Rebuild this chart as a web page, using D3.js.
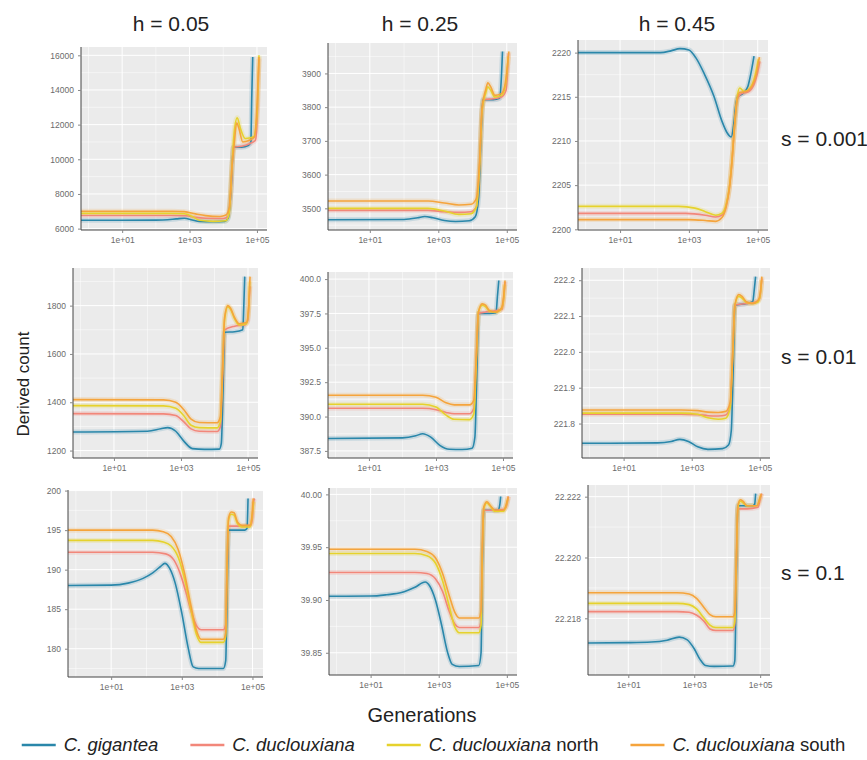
<!DOCTYPE html>
<html>
<head>
<meta charset="utf-8">
<script src="https://cdn.jsdelivr.net/npm/d3@7"></script>
<style>
  body { margin: 0; background: #fff; }
  svg { font-family: "Liberation Sans", Arial, sans-serif; }
</style>
</head>
<body>
<div id="chart"></div>
<script>
var svgWidth = 867;
var svgHeight = 760;

// facet labels
var hLabels = ["h = 0.05", "h = 0.25", "h = 0.45"];
var sLabels = ["s = 0.001", "s = 0.01", "s = 0.1"];

var species = ["C. gigantea", "C. duclouxiana", "C. duclouxiana north", "C. duclouxiana south"];
var colors = ["#2a87aa", "#f2877a", "#e6d22c", "#f5a43c"];

var xTicks = [10, 1000, 100000];
var xTickLabels = ["1e+01", "1e+03", "1e+05"];

// y ticks, panels in row order (s = 0.001 row first)
var yTicks = [
    [6000, 8000, 10000, 12000, 14000, 16000],
    [3500, 3600, 3700, 3800, 3900],
    [2200, 2205, 2210, 2215, 2220],
    [1200, 1400, 1600, 1800],
    [387.5, 390.0, 392.5, 395.0, 397.5, 400.0],
    [221.8, 221.9, 222.0, 222.1, 222.2],
    [180, 185, 190, 195, 200],
    [39.85, 39.90, 39.95, 40.00],
    [22.218, 22.220, 22.222]
];

// [generation, derived count] per panel
var gigantea = [
    [[0.6,6480],[100,6490],[400,6560],[700,6600],[1200,6500],[2000,6420],[5000,6400],[11000,6420],[14000,6600],[17000,8200],[20000,10700],[35000,10700],[55000,10800],[66000,11000],[70000,13500],[75000,15900]],
    [[0.6,3466],[100,3467],[250,3472],[400,3476],[700,3472],[1500,3464],[3200,3461],[8000,3463],[12000,3475],[15000,3530],[17500,3700],[20000,3822],[40000,3822],[62000,3826],[68000,3870],[75000,3965]],
    [[0.6,2220.0],[150,2220.0],[300,2220.2],[550,2220.45],[1000,2220.3],[1600,2219.4],[2800,2217.6],[5400,2215.0],[9000,2212.3],[13000,2210.9],[17000,2210.45],[20000,2211.8],[23000,2214.0],[26000,2215.0],[38000,2215.4],[52000,2216.2],[63000,2217.6],[78000,2219.6]],
    [[0.6,1277],[100,1280],[250,1290],[400,1295],[700,1280],[1200,1240],[2200,1208],[5000,1205],[14000,1206],[16000,1230],[18000,1450],[20000,1690],[40000,1692],[70000,1700],[75000,1800],[80000,1920]],
    [[0.6,388.4],[100,388.45],[250,388.6],[400,388.75],[700,388.5],[1300,387.9],[2500,387.62],[6000,387.6],[12000,387.7],[14500,388.5],[16500,393],[18500,397.5],[40000,397.5],[62000,397.55],[68000,398.7],[75000,399.9]],
    [[0.6,221.745],[100,221.746],[250,221.75],[450,221.756],[800,221.75],[1500,221.735],[3000,221.728],[8000,221.73],[12000,221.74],[14500,221.78],[16500,221.95],[18500,222.13],[40000,222.135],[62000,222.14],[68000,222.17],[75000,222.21]],
    [[0.6,188.0],[10,188.05],[30,188.3],[80,188.9],[150,189.6],[250,190.4],[330,190.8],[450,190.2],[650,188.3],[1000,184.5],[1500,180.2],[2100,177.7],[3000,177.5],[15000,177.5],[17500,178.5],[19000,186],[21000,195.0],[60000,195.0],[70000,195.2],[75000,199.0]],
    [[0.6,39.9035],[10,39.9037],[30,39.905],[80,39.907],[200,39.912],[400,39.917],[550,39.913],[800,39.90],[1200,39.877],[1800,39.851],[2500,39.839],[4000,39.837],[15000,39.838],[17500,39.85],[19000,39.93],[21000,39.985],[55000,39.985],[62000,39.99],[66000,39.998]],
    [[0.6,22.21719],[10,22.2172],[50,22.21722],[150,22.21728],[350,22.21738],[600,22.2173],[1000,22.2170],[1500,22.21665],[2200,22.21645],[4000,22.21642],[15000,22.21643],[17000,22.2166],[19000,22.2195],[21000,22.2217],[60000,22.2217],[68000,22.22175],[73000,22.2221]]
];

var duclouxiana = [
    [[0.6,6760],[300,6760],[800,6740],[1500,6650],[3000,6600],[10000,6580],[14000,6700],[17000,8200],[20000,10700],[35000,10750],[60000,10900],[90000,11100],[105000,13000],[115000,15800]],
    [[0.6,3494],[500,3494],[1500,3490],[4000,3488],[9000,3490],[13000,3505],[16000,3620],[19000,3790],[22000,3822],[40000,3825],[70000,3830],[95000,3850],[112000,3960]],
    [[0.6,2201.8],[800,2201.8],[3000,2201.6],[6000,2201.4],[9000,2201.6],[12000,2202.6],[15000,2204.7],[18000,2207.9],[21000,2211.5],[25000,2214.6],[32000,2215.3],[55000,2215.6],[80000,2216.5],[100000,2217.8],[115000,2219.0]],
    [[0.6,1353],[300,1352],[700,1345],[1200,1320],[2000,1290],[3500,1280],[12000,1279],[15000,1300],[17500,1500],[20000,1700],[40000,1715],[80000,1720],[100000,1740],[108000,1820],[115000,1880]],
    [[0.6,390.6],[400,390.6],[1000,390.5],[2000,390.3],[3500,390.2],[10000,390.2],[13500,390.6],[16000,394.2],[18500,397.5],[30000,397.6],[60000,397.7],[95000,397.8],[108000,398.9],[115000,399.8]],
    [[0.6,221.826],[500,221.826],[1500,221.825],[3000,221.822],[6000,221.821],[10000,221.824],[13500,221.85],[16000,221.99],[18500,222.13],[40000,222.135],[80000,222.14],[100000,222.15],[108000,222.18],[115000,222.205]],
    [[0.6,192.2],[150,192.2],[350,192.0],[600,191.2],[900,189.5],[1300,187.2],[1900,184.5],[2700,182.8],[3500,182.4],[15000,182.4],[17500,183],[19000,189.5],[21000,195.5],[40000,195.5],[90000,195.6],[100000,196.5],[108000,198.6],[115000,199.0]],
    [[0.6,39.926],[200,39.926],[450,39.925],[800,39.92],[1300,39.908],[2000,39.89],[3000,39.877],[4000,39.874],[15000,39.874],[17500,39.88],[19000,39.94],[21000,39.985],[40000,39.985],[85000,39.986],[100000,39.99],[112000,39.998]],
    [[0.6,22.21822],[300,22.21822],[700,22.2182],[1200,22.2181],[2000,22.2179],[3000,22.21765],[4500,22.2176],[15000,22.2176],[17000,22.2178],[19000,22.2198],[21000,22.2216],[40000,22.2216],[85000,22.22165],[100000,22.2219],[112000,22.2221]]
];

var north = [
    [[0.6,6880],[300,6880],[700,6860],[1200,6700],[2000,6480],[5000,6420],[12000,6450],[15000,6900],[18000,9500],[21000,11500],[26000,12400],[32000,11800],[45000,11200],[80000,11300],[100000,12500],[115000,16000]],
    [[0.6,3500],[500,3500],[1500,3492],[4000,3482],[9000,3484],[13000,3505],[16000,3620],[19000,3790],[24000,3840],[28000,3860],[34000,3850],[45000,3830],[70000,3835],[90000,3860],[110000,3950]],
    [[0.6,2202.6],[500,2202.6],[1500,2202.4],[3000,2202.0],[6000,2201.6],[9000,2201.8],[12000,2202.8],[15000,2204.8],[18000,2208],[21000,2211.5],[25000,2214.8],[30000,2216.0],[40000,2215.6],[60000,2216.0],[85000,2217.5],[105000,2219.3]],
    [[0.6,1386],[300,1385],[700,1375],[1200,1345],[2000,1305],[3500,1295],[12000,1294],[15000,1320],[17500,1540],[20000,1740],[25000,1795],[30000,1785],[40000,1745],[55000,1720],[90000,1725],[105000,1790],[112000,1900]],
    [[0.6,390.9],[400,390.9],[1000,390.7],[2000,390.1],[3500,389.8],[10000,389.78],[13500,390.2],[16000,394],[18500,397.6],[24000,398.1],[30000,398.0],[40000,397.65],[60000,397.6],[90000,397.85],[105000,398.6],[112000,399.6]],
    [[0.6,221.829],[500,221.829],[1500,221.826],[3000,221.816],[6000,221.812],[10000,221.815],[13500,221.845],[16000,221.99],[18500,222.13],[24000,222.155],[30000,222.15],[40000,222.138],[60000,222.135],[90000,222.14],[105000,222.165],[112000,222.2]],
    [[0.6,193.7],[150,193.7],[300,193.5],[500,193.0],[800,191.5],[1200,188.8],[1800,185.0],[2600,181.8],[3500,180.8],[15000,180.8],[17500,181.6],[19000,190],[21000,196.2],[25000,197.0],[30000,196.9],[38000,195.8],[50000,195.4],[85000,195.4],[95000,196.3],[108000,198.6]],
    [[0.6,39.944],[200,39.944],[450,39.942],[800,39.935],[1300,39.918],[2000,39.895],[3000,39.874],[4000,39.869],[15000,39.869],[17500,39.876],[19000,39.94],[21000,39.986],[26000,39.992],[32000,39.989],[45000,39.984],[80000,39.984],[95000,39.989],[108000,39.996]],
    [[0.6,22.21849],[300,22.21849],[700,22.21845],[1200,22.2183],[2000,22.218],[3000,22.21778],[4500,22.2177],[15000,22.2177],[17000,22.2179],[19000,22.2199],[21000,22.2216],[25000,22.22185],[30000,22.2218],[40000,22.2217],[80000,22.2217],[95000,22.2219],[105000,22.22205]]
];

var south = [
    [[0.6,7000],[300,7000],[700,6980],[1500,6850],[3000,6750],[8000,6700],[12000,6780],[15000,7200],[18000,9500],[21000,10800],[25000,12100],[29000,11800],[38000,11000],[60000,11100],[85000,11300],[100000,13000],[115000,15900]],
    [[0.6,3522],[500,3522],[1500,3516],[4000,3510],[9000,3512],[13000,3530],[16000,3640],[19000,3800],[24000,3850],[28000,3872],[34000,3860],[45000,3835],[70000,3840],[90000,3870],[115000,3965]],
    [[0.6,2201.1],[1000,2201.1],[3000,2201.0],[6000,2200.9],[9000,2201.3],[12000,2202.5],[15000,2204.6],[18000,2207.8],[21000,2211.5],[25000,2214.5],[30000,2215.5],[45000,2215.6],[70000,2216.3],[90000,2217.5],[112000,2219.5]],
    [[0.6,1411],[300,1410],[700,1400],[1200,1370],[2000,1330],[3500,1316],[12000,1315],[15000,1340],[17500,1550],[20000,1750],[25000,1800],[30000,1790],[40000,1750],[55000,1725],[90000,1730],[105000,1800],[115000,1920]],
    [[0.6,391.55],[400,391.55],[1000,391.4],[2000,391.0],[3500,390.85],[10000,390.85],[13500,391.2],[16000,394.5],[18500,397.6],[24000,398.2],[30000,398.1],[40000,397.7],[60000,397.6],[90000,397.9],[105000,398.8],[115000,399.9]],
    [[0.6,221.838],[500,221.838],[1500,221.836],[3000,221.832],[6000,221.831],[10000,221.834],[13500,221.86],[16000,222.0],[18500,222.13],[24000,222.16],[30000,222.155],[40000,222.14],[60000,222.135],[90000,222.145],[105000,222.17],[115000,222.21]],
    [[0.6,195.0],[150,195.0],[300,194.8],[500,194.2],[800,192.5],[1200,189.5],[1800,185.5],[2600,182.3],[3500,181.2],[15000,181.2],[17500,182],[19000,190],[21000,196.5],[25000,197.3],[30000,197.2],[38000,196],[50000,195.6],[85000,195.6],[95000,196.5],[105000,199.0]],
    [[0.6,39.948],[200,39.948],[450,39.946],[800,39.94],[1300,39.925],[2000,39.905],[3000,39.888],[4000,39.883],[15000,39.883],[17500,39.89],[19000,39.95],[21000,39.988],[26000,39.993],[32000,39.99],[45000,39.985],[80000,39.985],[95000,39.99],[110000,39.998]],
    [[0.6,22.21884],[300,22.21884],[700,22.2188],[1200,22.21865],[2000,22.21835],[3000,22.21812],[4500,22.21805],[15000,22.21805],[17000,22.2182],[19000,22.2200],[21000,22.2217],[25000,22.2219],[30000,22.22185],[40000,22.2217],[80000,22.2217],[95000,22.2219],[108000,22.2221]]
];

var seriesList = [gigantea, duclouxiana, north, south];

// plot area of each panel: [left, top, right, bottom]
var boxes = [
    [81, 47, 267, 230], [328, 43, 517, 230], [578, 40, 768, 230],
    [73, 268, 258, 458], [328, 272, 513, 458], [582, 268, 770, 458],
    [68, 490, 263, 677], [329, 488, 517, 675], [588, 485, 770, 675]
];

var svg = d3.select("#chart")
    .append("svg")
    .attr("width", svgWidth)
    .attr("height", svgHeight);

// shared log x domain: lines start at the axis, some room on the right
var allGens = [];
seriesList.forEach(s => s.forEach(p => p.forEach(d => allGens.push(Math.log10(d[0])))));
var lx0 = d3.min(allGens), lx1 = d3.max(allGens);
var xDomain = [Math.pow(10, lx0), Math.pow(10, lx1 + (lx1 - lx0) * 0.045)];
var xMinor = [1, 100, 10000];

function decimalsOf(ticks) {
    return d3.max(ticks, t => (String(t).split(".")[1] || "").length);
}

for (var i = 0; i < 9; i++) {
    var b = boxes[i];
    var w = b[2] - b[0];
    var h = b[3] - b[1];
    var g = svg.append("g").attr("transform", `translate(${b[0]}, ${b[1]})`);

    var vals = [];
    seriesList.forEach(s => s[i].forEach(d => vals.push(d[1])));
    var y0 = d3.min(vals), y1 = d3.max(vals);
    var pad = (y1 - y0) * 0.05;

    var x = d3.scaleLog().domain(xDomain).range([0, w]);
    var y = d3.scaleLinear().domain([y0 - pad, y1 + pad]).range([h, 0]);

    g.append("rect")
        .attr("width", w)
        .attr("height", h)
        .attr("fill", "#ebebeb");

    // minor grid
    var ticks = yTicks[i];
    var step = ticks[1] - ticks[0];
    var yMinor = [ticks[0] - step / 2].concat(ticks.map(t => t + step / 2))
        .filter(t => t > y.domain()[0] && t < y.domain()[1]);
    g.selectAll(".ymin").data(yMinor).enter().append("line")
        .attr("x1", 0).attr("x2", w)
        .attr("y1", d => y(d)).attr("y2", d => y(d))
        .attr("stroke", "#fff").attr("stroke-width", 0.5);
    g.selectAll(".xmin").data(xMinor.filter(t => t > xDomain[0])).enter().append("line")
        .attr("y1", 0).attr("y2", h)
        .attr("x1", d => x(d)).attr("x2", d => x(d))
        .attr("stroke", "#fff").attr("stroke-width", 0.5);

    // major grid
    g.selectAll(".ymaj").data(ticks).enter().append("line")
        .attr("x1", 0).attr("x2", w)
        .attr("y1", d => y(d)).attr("y2", d => y(d))
        .attr("stroke", "#fff").attr("stroke-width", 1);
    g.selectAll(".xmaj").data(xTicks).enter().append("line")
        .attr("y1", 0).attr("y2", h)
        .attr("x1", d => x(d)).attr("x2", d => x(d))
        .attr("stroke", "#fff").attr("stroke-width", 1);

    // lines
    var line = d3.line()
        .x(d => x(d[0]))
        .y(d => y(d[1]))
        .curve(d3.curveMonotoneX);

    seriesList.forEach((s, k) => {
        g.append("path")
            .attr("d", line(s[i]))
            .attr("fill", "none")
            .attr("stroke", colors[k])
            .attr("stroke-opacity", 0.18)
            .attr("stroke-width", 5);
    });
    seriesList.forEach((s, k) => {
        g.append("path")
            .attr("d", line(s[i]))
            .attr("fill", "none")
            .attr("stroke", colors[k])
            .attr("stroke-width", 1.6);
    });

    // axes
    var yAxis = d3.axisLeft(y)
        .tickValues(ticks)
        .tickSize(3)
        .tickPadding(4)
        .tickFormat(d3.format("." + decimalsOf(ticks) + "f"));
    var xAxis = d3.axisBottom(x)
        .tickValues(xTicks)
        .tickSize(3)
        .tickPadding(4)
        .tickFormat((d, j) => xTickLabels[j]);

    var ya = g.append("g").call(yAxis);
    var xa = g.append("g").attr("transform", `translate(0, ${h})`).call(xAxis);

    [ya, xa].forEach(a => {
        a.select(".domain").attr("stroke", "#444").attr("stroke-width", 1);
        a.selectAll(".tick line").attr("stroke", "#888");
        a.selectAll(".tick text")
            .attr("fill", "#6b6b6b")
            .style("font-size", "8.5px")
            .style("font-family", "'Liberation Sans', Arial, sans-serif");
    });
    ya.select(".domain").attr("d", `M0,0V${h}`);
    xa.select(".domain").attr("d", `M0,0H${w}`);
}

// column titles
var titleX = [171, 420, 677];
svg.selectAll(".htitle").data(hLabels).enter().append("text")
    .attr("x", (d, j) => titleX[j])
    .attr("y", 31)
    .attr("text-anchor", "middle")
    .attr("font-size", "21px")
    .attr("fill", "#222")
    .text(d => d);

// row titles
var rowY = [139, 357, 573];
svg.selectAll(".stitle").data(sLabels).enter().append("text")
    .attr("x", 781)
    .attr("y", (d, j) => rowY[j])
    .attr("dy", "0.35em")
    .attr("font-size", "21px")
    .attr("fill", "#222")
    .text(d => d);

svg.append("text")
    .attr("transform", "translate(23, 384) rotate(-90)")
    .attr("text-anchor", "middle")
    .attr("dy", "0.35em")
    .attr("font-size", "17px")
    .attr("fill", "#222")
    .text("Derived count");

svg.append("text")
    .attr("x", 422)
    .attr("y", 715)
    .attr("text-anchor", "middle")
    .attr("dy", "0.35em")
    .attr("font-size", "20px")
    .attr("fill", "#222")
    .text("Generations");

// legend
var legend = svg.append("g");
var lx = 0;
species.forEach((name, k) => {
    var item = legend.append("g").attr("transform", `translate(${lx}, 0)`);
    item.append("line")
        .attr("x1", 0).attr("x2", 34)
        .attr("stroke", colors[k])
        .attr("stroke-width", 2.5);
    var t = item.append("text")
        .attr("x", 42)
        .attr("dy", "0.35em")
        .attr("font-size", "18.5px")
        .attr("fill", "#222");
    var parts = name.split(" ");
    t.append("tspan").attr("font-style", "italic").text(parts.slice(0, 2).join(" "));
    if (parts.length > 2) t.append("tspan").text(" " + parts[2]);
    lx += 42 + t.node().getComputedTextLength() + 32;
});
legend.attr("transform", `translate(${(svgWidth - (lx - 32)) / 2}, 745)`);
</script>
</body>
</html>
